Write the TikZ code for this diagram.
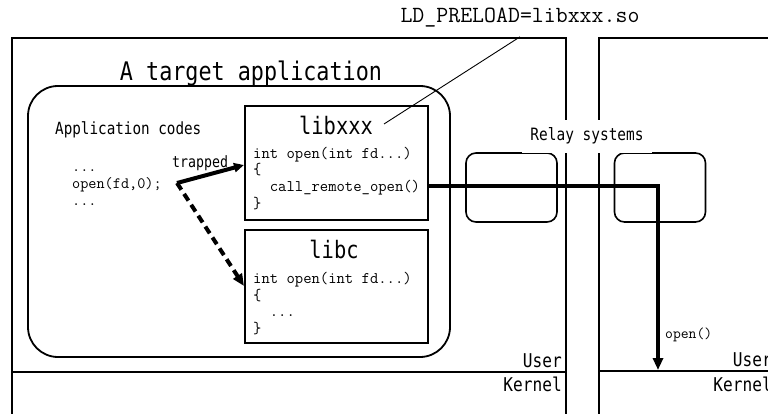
\documentclass[tikz,border=0pt]{standalone}
\usepackage{fontspec}
\newfontfamily\gothic[FakeStretch=0.85]{DejaVu Sans Mono}
\usetikzlibrary{arrows.meta,positioning}

\begin{document}
\begin{tikzpicture}[x=1pt,y=-1pt,
  frame/.style={line width=2pt},
  libbox/.style={draw,line width=1.8pt,minimum width=183pt,minimum height=114pt,inner sep=0pt},
  relaybox/.style={draw,line width=1.6pt,rounded corners=10pt,minimum width=91pt,minimum height=69pt},
  code/.style={font=\ttfamily\fontsize{16.2}{16.5}\selectfont,align=left,inner sep=0pt,anchor=base west},
  glabel/.style={font=\gothic\fontsize{#1}{#1}\selectfont,inner sep=0pt},
  bigarrow/.style={line width=4pt,-{Triangle[length=12pt,width=10pt]}},
]
\useasboundingbox (0,0) rectangle (768,414);
\clip (0,0) rectangle (768,414);

% the two hosts
\draw[frame] (12,420) -- (12,38) -- (566,38) -- (566,420);
\draw[frame] (12,372) -- (566,372);
\draw[frame] (599,420) -- (599,38) -- (790,38);
\draw[frame] (599,371) -- (790,371);
\node[glabel=19,anchor=base east] (user1) at (562,367) {User};
\node[glabel=19,anchor=base east] (kernel1) at (562,391) {Kernel};
\node[glabel=19,anchor=base east] (user2) at (772,366) {User};
\node[glabel=19,anchor=base east] (kernel2) at (772,391) {Kernel};

% target application
\node[glabel=25.6,anchor=base] (apptitle) at (251,81) {A target application};
\node[draw,line width=1.8pt,rounded corners=30pt,minimum width=422pt,minimum height=271pt] (appbox) at (239,221.5) {};
\node[glabel=16.8,anchor=base west] (appcodes) at (55,135) {Application codes};
\node[code,font=\ttfamily\fontsize{15.8}{16.5}\selectfont] (appsrc) at (72,205) {...\\open(fd,0);\\...};
\coordinate (callsite) at (177,183);

% libraries
\node[libbox] (libxxx) at (336.5,163) {};
\node[glabel=24,anchor=base] (xname) at (336,135) {libxxx};
\node[code] (xsrc) at (253,208) {int open(int fd...)\\\{\\~~call\_remote\_open()\\\}};
\node[libbox,minimum height=113pt] (libc) at (336.5,286.5) {};
\node[glabel=24,anchor=base] (cname) at (334,258) {libc};
\node[code] (csrc) at (253,333) {int open(int fd...)\\\{\\~~...\\\}};
\coordinate (xin) at (244,165);
\coordinate (cin) at (244,286);

\node[font=\ttfamily\fontsize{23.2}{24}\selectfont,inner sep=0pt,anchor=base] (preload) at (520,23) {LD\_PRELOAD=libxxx.so};
\coordinate (xtag) at (384,124);
\draw[line width=0.9pt] ([yshift=-9pt]preload.south) -- (xtag);

\node[glabel=15.6,anchor=base west] (trapped) at (172,168) {trapped};
\draw[bigarrow,-{Triangle[length=10pt,width=9pt]}] (callsite) -- (xin);
\draw[bigarrow,dash pattern=on 8pt off 5pt] (callsite) -- (cin);

% relay systems
\node[relaybox] (relay1) at (511.5,187.5) {};
\node[relaybox] (relay2) at (660,187.5) {};
\coordinate (xout) at (libxxx.east |- 0,186);
\coordinate (kline) at (658,370);
\draw[bigarrow] (xout) -| (kline);
\node[font=\ttfamily\fontsize{15.2}{16}\selectfont,inner sep=0pt,anchor=base west] (opencall) at (665,338) {open()};
\node[glabel=17,fill=white,inner xsep=8pt,minimum height=33pt,anchor=base] (relay) at (587,141) {Relay systems};
\end{tikzpicture}
\end{document}
